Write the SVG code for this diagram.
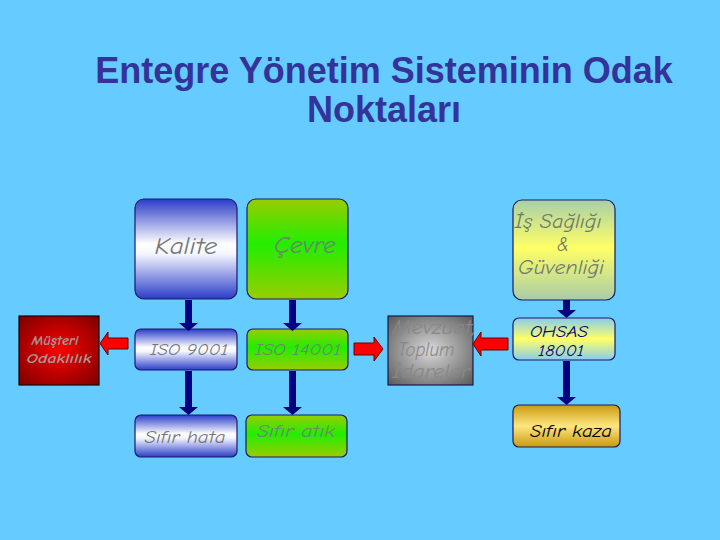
<svg xmlns="http://www.w3.org/2000/svg" width="720" height="540" viewBox="0 0 720 540">
<defs>
<linearGradient id="gBlue" x1="0" y1="0" x2="0" y2="1">
<stop offset="0" stop-color="#2a3cc8"/><stop offset="0.45" stop-color="#ffffff"/><stop offset="0.55" stop-color="#f4f6ff"/><stop offset="1" stop-color="#2a3cc8"/>
</linearGradient>
<linearGradient id="gGreen" x1="0" y1="0" x2="0" y2="1">
<stop offset="0" stop-color="#99cc00"/><stop offset="0.45" stop-color="#22ee00"/><stop offset="1" stop-color="#99cc00"/>
</linearGradient>
<linearGradient id="gIs" x1="0" y1="0" x2="0" y2="1">
<stop offset="0" stop-color="#a8d0a8"/><stop offset="0.48" stop-color="#ffff66"/><stop offset="1" stop-color="#a8cca8"/>
</linearGradient>
<linearGradient id="gOhsas" x1="0" y1="0" x2="0" y2="1">
<stop offset="0" stop-color="#88ccee"/><stop offset="0.5" stop-color="#ffff66"/><stop offset="1" stop-color="#88ccee"/>
</linearGradient>
<linearGradient id="gGold" x1="0" y1="0" x2="0" y2="1">
<stop offset="0" stop-color="#c89a10"/><stop offset="0.5" stop-color="#ffe680"/><stop offset="1" stop-color="#c89a10"/>
</linearGradient>
<radialGradient id="gRed" cx="0.5" cy="0.5" r="0.7">
<stop offset="0" stop-color="#ff0000"/><stop offset="1" stop-color="#7a0000"/>
</radialGradient>
<radialGradient id="gGray" cx="0.5" cy="0.5" r="0.7">
<stop offset="0" stop-color="#d8d8d8"/><stop offset="1" stop-color="#5a5a5a"/>
</radialGradient>
<style>
.box{stroke:#1a1a66;stroke-width:1.2}
.t{font-family:"Comic Sans MS","Comic Neue","DejaVu Sans",sans-serif;font-style:italic;text-anchor:middle}
.gray{fill:#777777}
.title{font-family:"Liberation Sans",Arial,sans-serif;font-weight:bold;font-size:36px;fill:#333399;text-anchor:middle}
.blue{fill:#000080}
.red{fill:#ff0000;stroke:#660000;stroke-width:1}
</style>
</defs>
<rect width="720" height="540" fill="#66ccff"/>
<text class="title" x="384" y="83">Entegre Yönetim Sisteminin Odak</text>
<text class="title" x="384" y="122">Noktaları</text>

<g id="kalite"><rect class="box" x="135" y="199" width="102" height="100" rx="9" fill="url(#gBlue)"/><text class="t gray" x="186" y="254" font-size="24" textLength="63" lengthAdjust="spacingAndGlyphs">Kalite</text></g>
<g id="cevre"><rect class="box" x="247" y="199" width="101" height="100" rx="9" fill="url(#gGreen)"/><text class="t" x="305" y="253" font-size="24" fill="#66886a" textLength="62" lengthAdjust="spacingAndGlyphs">Çevre</text></g>
<g id="is-sagligi"><rect class="box" x="513" y="200" width="102" height="100" rx="9" fill="url(#gIs)"/>
<text class="t" x="558" y="228" font-size="19" fill="#707a70" textLength="87" lengthAdjust="spacingAndGlyphs">İş Sağlığı</text>
<text class="t" x="563" y="251" font-size="19" fill="#707a70">&amp;</text>
<text class="t" x="561" y="274" font-size="19" fill="#707a70" textLength="86" lengthAdjust="spacingAndGlyphs">Güvenliği</text></g>

<g id="musteri"><rect x="19" y="316" width="80" height="69" fill="url(#gRed)" stroke="#1a0000" stroke-width="1.2"/>
<text class="t" x="55" y="345" font-size="14" font-weight="bold" fill="#a09898" textLength="47" lengthAdjust="spacingAndGlyphs">Müşteri</text>
<text class="t" x="59" y="363" font-size="14" font-weight="bold" fill="#a09898" textLength="65" lengthAdjust="spacingAndGlyphs">Odaklılık</text></g>
<g id="iso9001"><rect class="box" x="135" y="329" width="102" height="41" rx="6" fill="url(#gBlue)"/><text class="t gray" x="189" y="355" font-size="16" textLength="78" lengthAdjust="spacingAndGlyphs">ISO 9001</text></g>
<g id="iso14001"><rect class="box" x="247" y="329" width="101" height="41" rx="6" fill="url(#gGreen)"/><text class="t" x="298" y="355" font-size="16" fill="#6a8a6a" textLength="86" lengthAdjust="spacingAndGlyphs">ISO 14001</text></g>
<g id="mevzuat"><rect x="388" y="316" width="85" height="69" fill="url(#gGray)" stroke="#1a1a4a" stroke-width="1.2"/>
<text class="t" x="434" y="334" font-size="19" fill="#888888" textLength="83" lengthAdjust="spacingAndGlyphs">Mevzuat,</text>
<text class="t" x="426" y="356" font-size="19" fill="#888888" textLength="57" lengthAdjust="spacingAndGlyphs">Toplum</text>
<text class="t" x="431" y="378" font-size="19" fill="#888888" textLength="78" lengthAdjust="spacingAndGlyphs">İdareler</text></g>
<g id="ohsas"><rect class="box" x="513" y="318" width="102" height="42" rx="6" fill="url(#gOhsas)"/>
<text class="t" x="559" y="337" font-size="15" fill="#000066" textLength="58" lengthAdjust="spacingAndGlyphs">OHSAS</text>
<text class="t" x="561" y="356" font-size="15" fill="#000066" textLength="46" lengthAdjust="spacingAndGlyphs">18001</text></g>

<g id="sifir-hata"><rect class="box" x="135" y="415" width="102" height="42" rx="6" fill="url(#gBlue)"/><text class="t gray" x="185" y="443" font-size="18" textLength="81" lengthAdjust="spacingAndGlyphs">Sıfır hata</text></g>
<g id="sifir-atik"><rect class="box" x="246" y="415" width="101" height="42" rx="6" fill="url(#gGreen)"/><text class="t" x="296" y="437" font-size="18" fill="#6a8a6a" textLength="78" lengthAdjust="spacingAndGlyphs">Sıfır atık</text></g>
<g id="sifir-kaza"><rect class="box" x="513" y="405" width="107" height="42" rx="6" fill="url(#gGold)"/><text class="t" x="571" y="437" font-size="18" fill="#000000" textLength="82" lengthAdjust="spacingAndGlyphs">Sıfır kaza</text></g>

<g id="connectors">
<path class="blue" d="M185,300 h7 v23 h6 l-9.5,8 l-9.5,-8 h6 z"/>
<path class="blue" d="M289,300 h7 v23 h6 l-9.5,8 l-9.5,-8 h6 z"/>
<path class="blue" d="M185,371 h7 v36 h6 l-9.5,8 l-9.5,-8 h6 z"/>
<path class="blue" d="M289,371 h7 v36 h6 l-9.5,8 l-9.5,-8 h6 z"/>
<path class="blue" d="M563,300 h7 v10 h6 l-9.5,8 l-9.5,-8 h6 z"/>
<path class="blue" d="M563,361 h7 v36 h6 l-9.5,8 l-9.5,-8 h6 z"/>
<path class="red" d="M128,338 v11 h-20 v6 l-8,-11.5 l8,-11.5 v6 z"/>
<path class="red" d="M354,343 v12 h20 v6 l9,-12 l-9,-12 v6 z"/>
<path class="red" d="M508,338 v12 h-27 v6 l-8,-12 l8,-12 v6 z"/>
</g>
</svg>
